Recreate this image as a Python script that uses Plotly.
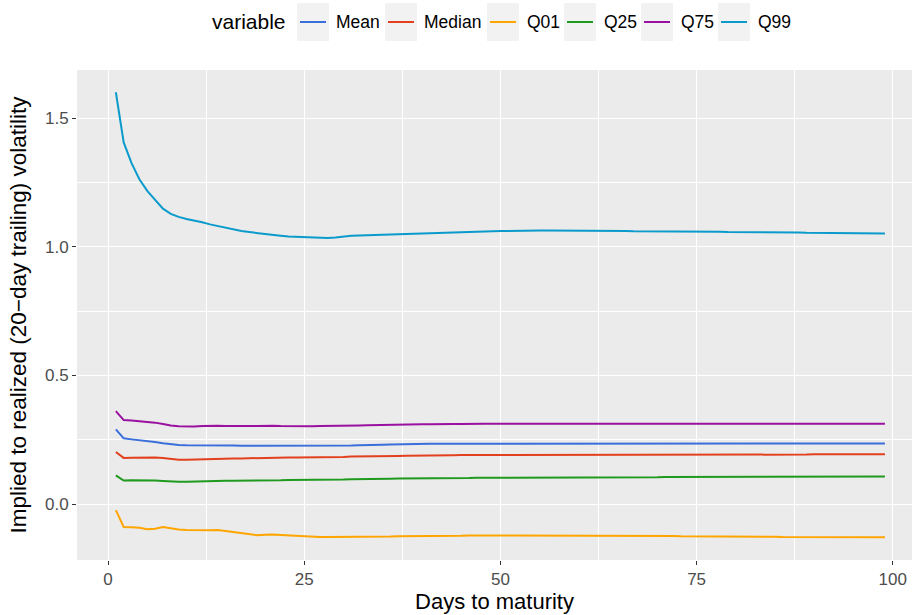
import plotly.graph_objects as go

days = list(range(1, 100))

q99 = [1.600, 1.405, 1.325, 1.262, 1.217, 1.181, 1.148, 1.128, 1.116, 1.108,
       1.102, 1.095, 1.087, 1.080, 1.073, 1.066, 1.061, 1.057, 1.053, 1.050,
       1.047, 1.043, 1.040, 1.039, 1.038, 1.036, 1.034, 1.034, 1.036, 1.040,
       1.043, 1.044, 1.045, 1.045, 1.046, 1.047, 1.049, 1.051, 1.052, 1.053,
       1.054, 1.055, 1.056, 1.057, 1.058, 1.059, 1.059, 1.060, 1.060, 1.061,
       1.061, 1.062, 1.062, 1.063, 1.063, 1.063, 1.063, 1.063, 1.063, 1.062,
       1.062, 1.062, 1.062, 1.061, 1.061, 1.061, 1.060, 1.060, 1.060, 1.060,
       1.059, 1.059, 1.059, 1.059, 1.059, 1.058, 1.058, 1.058, 1.057, 1.057,
       1.057, 1.056, 1.056, 1.056, 1.055, 1.055, 1.055, 1.055, 1.054, 1.054,
       1.054, 1.053, 1.053, 1.053, 1.053, 1.052, 1.052, 1.052, 1.052]

q75 = [0.362, 0.327, 0.325, 0.323, 0.321, 0.317, 0.312, 0.306, 0.303, 0.302,
       0.302, 0.304, 0.305, 0.305, 0.304, 0.303, 0.303, 0.304, 0.304, 0.305,
       0.305, 0.304, 0.303, 0.303, 0.303, 0.303, 0.304, 0.304, 0.305, 0.305,
       0.306, 0.306, 0.307, 0.308, 0.308, 0.309, 0.310, 0.310, 0.311, 0.311,
       0.311, 0.312, 0.312, 0.312, 0.312, 0.313, 0.313, 0.313, 0.313, 0.313,
       0.313, 0.313, 0.313, 0.313, 0.313, 0.313, 0.313, 0.313, 0.313, 0.313,
       0.313, 0.313, 0.313, 0.313, 0.313, 0.313, 0.313, 0.313, 0.313, 0.313,
       0.313, 0.313, 0.313, 0.313, 0.313, 0.313, 0.313, 0.313, 0.313, 0.313,
       0.313, 0.313, 0.313, 0.313, 0.313, 0.313, 0.313, 0.313, 0.313, 0.313,
       0.313, 0.313, 0.313, 0.313, 0.313, 0.313, 0.313, 0.313, 0.313]

mean = [0.291, 0.256, 0.252, 0.249, 0.246, 0.242, 0.237, 0.233, 0.230, 0.229,
        0.229, 0.230, 0.230, 0.230, 0.229, 0.228, 0.227, 0.227, 0.227, 0.227,
        0.227, 0.226, 0.226, 0.226, 0.226, 0.226, 0.226, 0.227, 0.227, 0.228,
        0.228, 0.229, 0.229, 0.230, 0.231, 0.232, 0.233, 0.233, 0.234, 0.234,
        0.235, 0.235, 0.235, 0.236, 0.236, 0.236, 0.236, 0.236, 0.236, 0.236,
        0.236, 0.236, 0.236, 0.236, 0.236, 0.236, 0.236, 0.236, 0.236, 0.236,
        0.236, 0.236, 0.236, 0.236, 0.236, 0.236, 0.236, 0.236, 0.236, 0.236,
        0.236, 0.236, 0.236, 0.236, 0.236, 0.236, 0.236, 0.236, 0.236, 0.236,
        0.236, 0.236, 0.236, 0.236, 0.236, 0.236, 0.236, 0.236, 0.236, 0.236,
        0.236, 0.236, 0.236, 0.236, 0.236, 0.236, 0.236, 0.236, 0.236]

median = [0.203, 0.180, 0.181, 0.182, 0.182, 0.182, 0.180, 0.176, 0.173, 0.173,
          0.174, 0.176, 0.177, 0.178, 0.178, 0.178, 0.178, 0.179, 0.180, 0.181,
          0.181, 0.181, 0.182, 0.182, 0.182, 0.182, 0.183, 0.183, 0.184, 0.184,
          0.185, 0.185, 0.186, 0.186, 0.187, 0.187, 0.187, 0.188, 0.188, 0.189,
          0.189, 0.190, 0.190, 0.190, 0.191, 0.191, 0.191, 0.191, 0.191, 0.191,
          0.191, 0.191, 0.191, 0.191, 0.191, 0.191, 0.191, 0.191, 0.191, 0.192,
          0.192, 0.192, 0.192, 0.192, 0.192, 0.192, 0.192, 0.192, 0.192, 0.192,
          0.192, 0.192, 0.192, 0.192, 0.192, 0.192, 0.192, 0.192, 0.192, 0.193,
          0.193, 0.193, 0.193, 0.193, 0.193, 0.193, 0.193, 0.193, 0.193, 0.194,
          0.194, 0.194, 0.194, 0.194, 0.194, 0.194, 0.194, 0.194, 0.194]

q25 = [0.112, 0.092, 0.093, 0.093, 0.093, 0.092, 0.090, 0.088, 0.087, 0.087,
       0.088, 0.090, 0.091, 0.091, 0.091, 0.091, 0.091, 0.092, 0.093, 0.093,
       0.093, 0.093, 0.094, 0.094, 0.094, 0.094, 0.095, 0.095, 0.096, 0.096,
       0.097, 0.097, 0.098, 0.098, 0.099, 0.099, 0.100, 0.100, 0.100, 0.101,
       0.101, 0.101, 0.102, 0.102, 0.102, 0.102, 0.103, 0.103, 0.103, 0.103,
       0.104, 0.104, 0.104, 0.104, 0.104, 0.104, 0.104, 0.104, 0.104, 0.104,
       0.105, 0.105, 0.105, 0.105, 0.105, 0.105, 0.105, 0.105, 0.105, 0.105,
       0.106, 0.106, 0.106, 0.106, 0.106, 0.106, 0.106, 0.106, 0.106, 0.106,
       0.107, 0.107, 0.107, 0.107, 0.107, 0.107, 0.107, 0.107, 0.107, 0.107,
       0.108, 0.108, 0.108, 0.108, 0.108, 0.108, 0.108, 0.108, 0.108]

q01 = [-0.023, -0.088, -0.089, -0.091, -0.097, -0.095, -0.088, -0.093, -0.098, -0.100,
       -0.101, -0.102, -0.101, -0.100, -0.104, -0.109, -0.114, -0.118, -0.120, -0.118,
       -0.117, -0.119, -0.121, -0.123, -0.125, -0.127, -0.127, -0.127, -0.127, -0.127,
       -0.127, -0.127, -0.127, -0.126, -0.126, -0.125, -0.124, -0.124, -0.124, -0.123,
       -0.123, -0.123, -0.122, -0.122, -0.122, -0.121, -0.121, -0.121, -0.121, -0.121,
       -0.121, -0.121, -0.121, -0.121, -0.121, -0.121, -0.121, -0.121, -0.121, -0.121,
       -0.121, -0.121, -0.121, -0.121, -0.122, -0.122, -0.122, -0.122, -0.123, -0.123,
       -0.123, -0.123, -0.124, -0.124, -0.124, -0.124, -0.125, -0.125, -0.125, -0.125,
       -0.126, -0.126, -0.126, -0.126, -0.126, -0.127, -0.127, -0.127, -0.127, -0.127,
       -0.127, -0.128, -0.128, -0.128, -0.128, -0.128, -0.128, -0.128, -0.128]

series_names = ["Mean", "Median", "Q01", "Q25", "Q75", "Q99"]
series_values = [mean, median, q01, q25, q75, q99]
series_colors = ["#3A6FDB", "#E2401E", "#FFA500", "#1F9A1F", "#9A10A0", "#0A9BCC"]

x_ticks = [0, 25, 50, 75, 100]
y_ticks = [0.0, 0.5, 1.0, 1.5]
y_tick_labels = ["0.0", "0.5", "1.0", "1.5"]

W, H = 914, 615
L, R, T, B = 77, 2, 70, 55
PW, PH = W - L - R, H - T - B


def px2x(px):
    return (px - L) / PW


def py2y(py):
    return (H - B - py) / PH


fig = go.Figure()
for name, vals, col in zip(series_names, series_values, series_colors):
    fig.add_trace(go.Scatter(x=days, y=vals, mode="lines", name=name,
                             line=dict(color=col, width=2), showlegend=False))

# manual ggplot-style legend
KEY_Y = 22
shapes = []
annotations = []
annotations.append(dict(text="variable", x=px2x(210), y=py2y(KEY_Y), xref="paper", yref="paper",
                        xanchor="left", yanchor="middle", showarrow=False,
                        font=dict(size=21, color="black")))
box_left = [297, 385, 487, 564, 641, 718]
label_left = [334, 422, 525, 602, 679, 756]
for name, col, bx, lx in zip(series_names, series_colors, box_left, label_left):
    shapes.append(dict(type="rect", xref="paper", yref="paper",
                       x0=px2x(bx), x1=px2x(bx + 32), y0=py2y(3), y1=py2y(41),
                       fillcolor="#F2F2F2", line=dict(width=0), layer="below"))
    shapes.append(dict(type="line", xref="paper", yref="paper",
                       x0=px2x(bx + 3), x1=px2x(bx + 29), y0=py2y(KEY_Y), y1=py2y(KEY_Y),
                       line=dict(color=col, width=2)))
    annotations.append(dict(text=name, x=px2x(lx), y=py2y(KEY_Y), xref="paper", yref="paper",
                            xanchor="left", yanchor="middle", showarrow=False,
                            font=dict(size=17.5, color="black")))

fig.update_layout(
    width=W, height=H,
    margin=dict(l=L, r=R, t=T, b=B),
    paper_bgcolor="white",
    plot_bgcolor="#EBEBEB",
    font=dict(family="Liberation Sans, Arial, sans-serif", color="black"),
    shapes=shapes,
    annotations=annotations,
    xaxis=dict(
        range=[-3.95, 102.45], tickvals=x_ticks, ticktext=[str(v) for v in x_ticks],
        showgrid=True, gridcolor="white", gridwidth=1.1, zeroline=False,
        ticks="outside", ticklen=4, tickcolor="#333333", tickwidth=1,
        tickfont=dict(size=17, color="#4D4D4D"),
        minor=dict(tickvals=[12.5, 37.5, 62.5, 87.5], showgrid=True,
                   gridcolor="white", gridwidth=0.5, ticks=""),
        title=dict(text="Days to maturity", font=dict(size=22, color="black"), standoff=5),
        showline=False,
    ),
    yaxis=dict(
        range=[-0.2165, 1.6865], tickvals=y_ticks, ticktext=y_tick_labels,
        showgrid=True, gridcolor="white", gridwidth=1.1, zeroline=False,
        ticks="outside", ticklen=4, tickcolor="#333333", tickwidth=1,
        tickfont=dict(size=17, color="#4D4D4D"),
        minor=dict(tickvals=[0.25, 0.75, 1.25], showgrid=True,
                   gridcolor="white", gridwidth=0.5, ticks=""),
        title=dict(text="Implied to realized (20\u2212day trailing) volatility",
                   font=dict(size=22.5, color="black"), standoff=12),
        showline=False,
    ),
)

fig.write_html("out.html", config={"displayModeBar": False},
               post_script="document.body.style.margin='0';")
